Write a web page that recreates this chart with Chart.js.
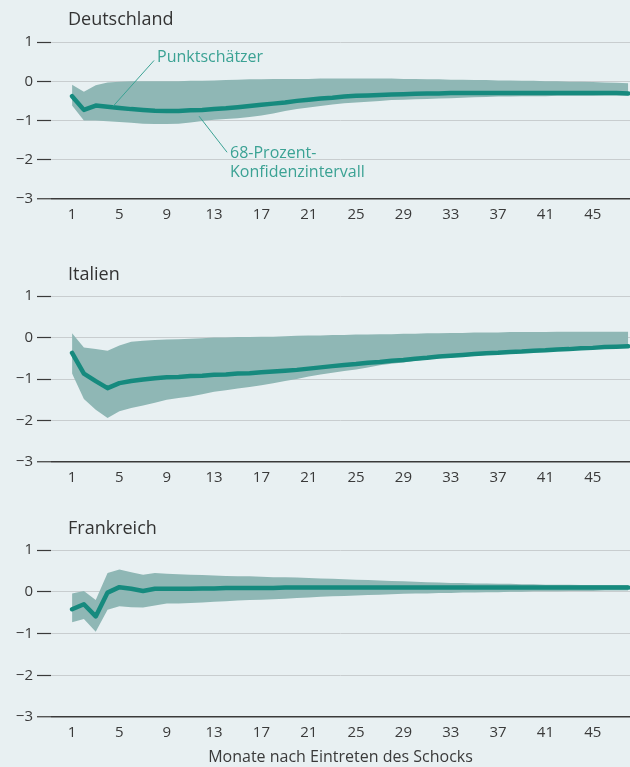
<!DOCTYPE html>
<html lang="de">
<head>
<meta charset="utf-8">
<title>Impulsantworten</title>
<script src="https://cdn.jsdelivr.net/npm/chart.js@4.4.1/dist/chart.umd.min.js"></script>
<style>
  html, body { margin: 0; padding: 0; background: #e8f0f2; }
  body { width: 630px; height: 767px; position: relative; overflow: hidden; font-family: "Open Sans", sans-serif; }
  .panel { position: absolute; left: 0; width: 630px; }
  .titel { position: absolute; left: 68px; font-size: 18px; line-height: 22px; color: #333; }
</style>
</head>
<body>
<div class="panel" style="top:0;height:235px"><canvas id="chartDE"></canvas></div>
<div class="panel" style="top:254px;height:244px"><canvas id="chartIT"></canvas></div>
<div class="panel" style="top:508px;height:259px"><canvas id="chartFR"></canvas></div>
<div class="titel" style="top:7px">Deutschland</div>
<div class="titel" style="top:262px">Italien</div>
<div class="titel" style="top:516px">Frankreich</div>

<script>
// Werte je Monat 1..48
const deLine = [-0.38,-0.73,-0.62,-0.65,-0.68,-0.71,-0.73,-0.75,-0.76,-0.76,
  -0.74,-0.73,-0.71,-0.69,-0.66,-0.63,-0.60,-0.57,-0.54,-0.50,
  -0.47,-0.44,-0.42,-0.39,-0.37,-0.36,-0.35,-0.34,-0.33,-0.32,
  -0.31,-0.31,-0.30,-0.30,-0.30,-0.30,-0.30,-0.30,-0.30,-0.30,
  -0.30,-0.30,-0.30,-0.30,-0.30,-0.30,-0.30,-0.31];
const deUpper = [-0.09,-0.27,-0.10,-0.03,-0.01,0.00,0.00,0.00,0.00,0.00,
  0.01,0.01,0.02,0.03,0.04,0.05,0.05,0.06,0.06,0.06,
  0.06,0.07,0.07,0.07,0.07,0.07,0.07,0.07,0.06,0.06,
  0.05,0.05,0.04,0.04,0.03,0.03,0.02,0.02,0.01,0.01,
  0.00,0.00,-0.01,-0.01,-0.02,-0.03,-0.04,-0.05];
const deLower = [-0.62,-1.00,-1.00,-1.02,-1.04,-1.06,-1.08,-1.09,-1.09,-1.08,
  -1.05,-1.01,-0.98,-0.96,-0.94,-0.91,-0.87,-0.82,-0.76,-0.71,
  -0.67,-0.63,-0.59,-0.56,-0.54,-0.52,-0.50,-0.48,-0.47,-0.46,
  -0.45,-0.44,-0.43,-0.42,-0.41,-0.40,-0.39,-0.39,-0.38,-0.38,
  -0.38,-0.37,-0.37,-0.37,-0.37,-0.36,-0.36,-0.36];

const itLine = [-0.37,-0.87,-1.05,-1.22,-1.10,-1.05,-1.01,-0.98,-0.96,-0.95,
  -0.93,-0.92,-0.90,-0.89,-0.87,-0.86,-0.84,-0.82,-0.80,-0.78,
  -0.75,-0.72,-0.69,-0.66,-0.64,-0.61,-0.59,-0.56,-0.54,-0.51,
  -0.49,-0.46,-0.44,-0.42,-0.40,-0.38,-0.37,-0.35,-0.34,-0.32,
  -0.31,-0.29,-0.28,-0.26,-0.25,-0.23,-0.22,-0.21];
const itUpper = [0.10,-0.24,-0.28,-0.32,-0.19,-0.10,-0.08,-0.06,-0.05,-0.04,
  -0.03,-0.02,0.00,0.00,0.01,0.01,0.02,0.02,0.03,0.04,
  0.05,0.05,0.06,0.06,0.07,0.07,0.08,0.08,0.09,0.09,
  0.10,0.10,0.11,0.11,0.12,0.12,0.12,0.13,0.13,0.13,
  0.13,0.14,0.14,0.14,0.14,0.14,0.14,0.14];
const itLower = [-0.87,-1.48,-1.74,-1.94,-1.78,-1.70,-1.64,-1.57,-1.50,-1.46,
  -1.42,-1.37,-1.31,-1.27,-1.23,-1.19,-1.15,-1.10,-1.05,-1.00,
  -0.94,-0.89,-0.85,-0.81,-0.77,-0.72,-0.67,-0.63,-0.60,-0.56,
  -0.53,-0.50,-0.48,-0.46,-0.44,-0.42,-0.40,-0.39,-0.37,-0.35,
  -0.34,-0.32,-0.31,-0.29,-0.28,-0.26,-0.25,-0.24];

const frLine = [-0.42,-0.30,-0.59,-0.02,0.11,0.07,0.02,0.07,0.07,0.07,
  0.07,0.08,0.08,0.09,0.09,0.09,0.09,0.09,0.10,0.10,
  0.10,0.10,0.10,0.10,0.10,0.10,0.10,0.10,0.10,0.10,
  0.10,0.10,0.10,0.10,0.10,0.10,0.10,0.10,0.10,0.10,
  0.10,0.10,0.10,0.10,0.10,0.10,0.10,0.10];
const frUpper = [-0.04,0.02,-0.20,0.45,0.53,0.47,0.41,0.45,0.43,0.42,
  0.41,0.40,0.39,0.38,0.37,0.37,0.36,0.35,0.35,0.34,
  0.33,0.32,0.31,0.30,0.29,0.28,0.27,0.26,0.25,0.24,
  0.23,0.22,0.21,0.21,0.20,0.20,0.19,0.19,0.18,0.18,
  0.17,0.17,0.17,0.16,0.16,0.16,0.16,0.16];
const frLower = [-0.73,-0.65,-0.96,-0.43,-0.35,-0.37,-0.38,-0.33,-0.28,-0.28,
  -0.27,-0.26,-0.24,-0.23,-0.21,-0.20,-0.19,-0.18,-0.17,-0.15,
  -0.14,-0.12,-0.11,-0.10,-0.09,-0.08,-0.07,-0.06,-0.05,-0.04,
  -0.04,-0.03,-0.03,-0.02,-0.02,-0.01,-0.01,0.00,0.00,0.01,
  0.01,0.01,0.02,0.02,0.02,0.03,0.03,0.03];

const months = deLine.map((_, i) => i + 1);
const xTicks = [1, 5, 9, 13, 17, 21, 25, 29, 33, 37, 41, 45];
const yTicks = [-3, -2, -1, 0, 1];

const FONT = '"Open Sans", sans-serif';
const TEXT = '#3a3a3a';
const BAND = '#8fb7b5';
const LINE = '#168a7e';
const LABEL = '#3ba294';

const pts = (arr) => arr.map((v, i) => ({ x: months[i], y: v }));

// Beschriftungen im oberen Feld (Punktschätzer / Konfidenzintervall)
const annotations = {
  id: 'annotations',
  afterDatasetsDraw(chart, args, opts) {
    if (!opts.items) return;
    const { ctx, scales: { x, y } } = chart;
    ctx.save();
    opts.items.forEach((a) => {
      ctx.strokeStyle = LABEL;
      ctx.lineWidth = 1;
      ctx.beginPath();
      ctx.moveTo(x.getPixelForValue(a.from[0]), y.getPixelForValue(a.from[1]));
      ctx.lineTo(x.getPixelForValue(a.to[0]), y.getPixelForValue(a.to[1]));
      ctx.stroke();
      ctx.fillStyle = LABEL;
      ctx.font = '16px ' + FONT;
      ctx.textBaseline = 'middle';
      ctx.textAlign = 'left';
      a.text.forEach((t, k) => {
        ctx.fillText(t, x.getPixelForValue(a.at[0]), y.getPixelForValue(a.at[1] - k * 0.49));
      });
    });
    ctx.restore();
  }
};

function makeChart(id, line, upper, lower, axisHeight, xTitle, items) {
  return new Chart(document.getElementById(id), {
    type: 'line',
    data: {
      datasets: [
        { data: pts(upper), fill: '+1', backgroundColor: BAND, borderWidth: 0, pointRadius: 0, order: 2 },
        { data: pts(lower), fill: false, borderWidth: 0, pointRadius: 0, order: 3 },
        { data: pts(line), fill: false, borderColor: LINE, borderWidth: 4.5, pointRadius: 0,
          borderCapStyle: 'round', borderJoinStyle: 'round', order: 1 }
      ]
    },
    options: {
      responsive: true,
      maintainAspectRatio: false,
      animation: false,
      events: [],
      layout: { padding: { top: 42, left: 0, right: 0, bottom: 0 } },
      plugins: {
        legend: { display: false },
        tooltip: { enabled: false },
        annotations: { items: items }
      },
      scales: {
        x: {
          type: 'linear',
          min: -0.78,
          max: 48.15,
          afterBuildTicks: (s) => { s.ticks = xTicks.map((v) => ({ value: v })); },
          afterFit: (s) => { s.height = axisHeight; },
          grid: { display: false, drawTicks: false },
          border: { display: false },
          ticks: { color: TEXT, font: { family: FONT, size: 15 }, padding: 7, maxRotation: 0, autoSkip: false,
            callback: (v) => String(v) },
          title: { display: !!xTitle, text: xTitle || '', color: TEXT, font: { family: FONT, size: 16 },
            padding: { top: 0, bottom: 0 } }
        },
        y: {
          min: -3,
          max: 1,
          afterBuildTicks: (s) => { s.ticks = yTicks.map((v) => ({ value: v })); },
          afterFit: (s) => { s.width = 51; },
          grid: {
            color: (c) => (c.tick && c.tick.value === -3 ? '#3a3a3a' : '#c8cdcf'),
            lineWidth: (c) => (c.tick && c.tick.value === -3 ? 1.5 : 1),
            tickColor: '#3a3a3a',
            tickWidth: 1.2,
            tickLength: 14
          },
          border: { display: false },
          ticks: { color: TEXT, font: { family: FONT, size: 15 }, padding: 4,
            callback: (v) => (v < 0 ? '\u2212' + Math.abs(v) : String(v)) }
        }
      }
    },
    plugins: [annotations]
  });
}

makeChart('chartDE', deLine, deUpper, deLower, 36, null, [
  { from: [7.93, 0.53], to: [4.46, -0.64], at: [8.18, 0.61], text: ['Punktschätzer'] },
  { from: [11.73, -0.89], to: [14.1, -1.81], at: [14.35, -1.83], text: ['68-Prozent-', 'Konfidenzintervall'] }
]);
makeChart('chartIT', itLine, itUpper, itLower, 36, null, null);
makeChart('chartFR', frLine, frUpper, frLower, 50, 'Monate nach Eintreten des Schocks', null);
</script>
</body>
</html>
